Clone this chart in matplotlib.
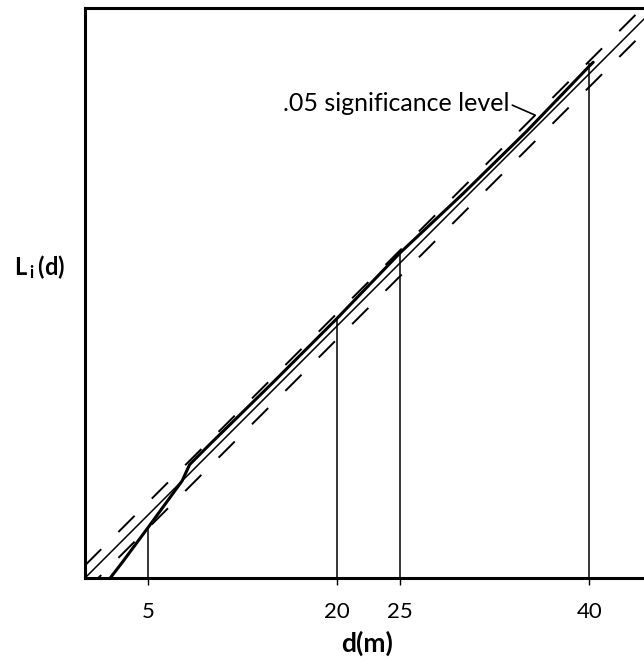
import matplotlib
matplotlib.use("Agg")
import matplotlib.pyplot as plt

plt.rcParams["font.family"] = ["Lato", "DejaVu Sans"]
plt.rcParams["mathtext.fontset"] = "custom"
plt.rcParams["mathtext.rm"] = "Lato"
plt.rcParams["mathtext.bf"] = "Lato:bold"
plt.rcParams["lines.scale_dashes"] = False

# theoretical L(d) = d and the .05 envelope
theory_d = [0, 45.2]
theory_L = [0, 45.2]
upper_d = [0, 45.2]
upper_L = [1.0, 46.2]
lower_d = [0, 45.2]
lower_L = [-1.05, 44.15]

# observed L_i(d)
obs_d = [2.0, 3.0, 5.0, 7.7, 8.3, 10, 15, 20, 25, 30, 35, 40.0, 40.3]
obs_L = [0.0, 1.3, 4.0, 7.7, 9.0, 10.7, 15.6, 20.6, 25.8, 30.5, 35.4, 40.6, 40.9]

# marked distances
mark_d = [5, 20, 25, 40]
mark_L = [4.0, 20.6, 25.8, 40.8]
tick_labels = ["5", "20", "25", "40"]

fig = plt.figure(figsize=(6.44, 6.68), dpi=100)
ax = fig.add_axes([85 / 644, 90 / 668, 570 / 644, 570 / 668])

ax.plot(theory_d, theory_L, color="black", lw=1.1)
ax.plot(upper_d, upper_L, color="black", lw=1.4, ls=(0, (16.5, 17.5)))
ax.plot(lower_d, lower_L, color="black", lw=1.4, ls=(0, (16.5, 17.5)))
ax.plot(obs_d, obs_L, color="black", lw=2.2, solid_capstyle="round")
ax.vlines(mark_d, 0, mark_L, color="black", lw=1.1)

ax.set_xlim(0, 45.2)
ax.set_ylim(0, 45.2)
ax.set_xticks(mark_d)
ax.set_xticklabels(tick_labels, fontsize=16)
ax.set_yticks([])
ax.tick_params(axis="x", direction="out", length=5, width=1.0, pad=12)
for s in ax.spines.values():
    s.set_linewidth(2.2)

ax.annotate(".05 significance level", xy=(35.7, 36.7), xytext=(15.7, 37.0),
            fontsize=18, ha="left", va="baseline",
            arrowprops=dict(arrowstyle="-", lw=1.2, color="black",
                            relpos=(1.0, 0.5), shrinkA=0, shrinkB=0))

fig.text(40 / 644, 1 - 267 / 668, r"$\mathbf{L_{\,i}\,(d)}$", fontsize=17,
         ha="center", va="center")
fig.text(367 / 644, 1 - 643 / 668, "d(m)", fontsize=19, fontweight="bold",
         ha="center", va="center")

fig.savefig("out.png", dpi=100)
